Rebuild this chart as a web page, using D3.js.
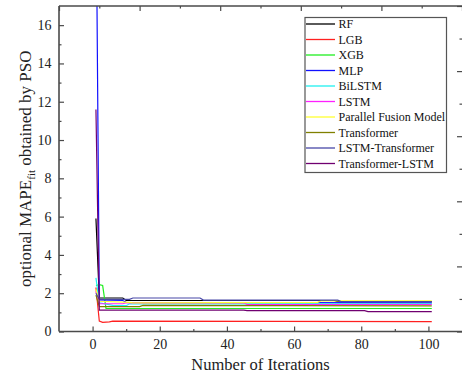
<!DOCTYPE html>
<html>
<head>
<meta charset="utf-8">
<script src="https://cdn.jsdelivr.net/npm/d3@7"></script>
<style>
  body { margin: 0; background: #fff; }
  svg { display: block; font-family: "Liberation Serif", "Times New Roman", serif; }
</style>
</head>
<body>
<div id="chart"></div>
<script>
// series names and colours (legend order)
const seriesNames = ['RF', 'LGB', 'XGB', 'MLP', 'BiLSTM', 'LSTM', 'Parallel Fusion Model',
  'Transformer', 'LSTM-Transformer', 'Transformer-LSTM'];
const seriesColors = ['#000000', '#ff2020', '#20ee20', '#1010ff', '#20f0f0', '#ff20ff',
  '#ffff30', '#808000', '#4848a8', '#700070'];

// best MAPE_fit per iteration, as [iteration, value] points
const rf = [[1, 5.9], [2, 1.75], [9, 1.75], [10, 1.62], [72, 1.62], [73, 1.56], [101, 1.56]];
const lgb = [[1, 2.3], [2, 0.55], [3, 0.48], [5, 0.5], [6, 0.54], [101, 0.52]];
const xgb = [[1, 2.4], [2, 2.45], [3, 2.4], [4, 1.2], [101, 1.2]];
const mlp = [[1, 24], [2, 1.65], [9, 1.62], [10, 1.52], [101, 1.5]];
const bilstm = [[1, 2.8], [2, 1.5], [6, 1.36], [10, 1.35], [11, 1.45], [101, 1.44]];
const lstm = [[1, 2.1], [2, 1.45], [9, 1.45], [10, 1.5], [45, 1.5], [46, 1.41], [101, 1.41]];
const pfm = [[1, 2.2], [2, 1.58], [11, 1.52], [12, 1.5], [67, 1.52], [68, 1.6], [101, 1.6]];
const transformer = [[1, 1.9], [2, 1.3], [14, 1.3], [15, 1.36], [101, 1.34]];
const lstmTransformer = [[1, 2.0], [2, 1.68], [11, 1.68], [12, 1.75], [32, 1.75], [33, 1.64], [73, 1.64], [74, 1.56], [101, 1.56]];
const transformerLstm = [[1, 11.6], [2, 1.12], [45, 1.12], [46, 1.09], [81, 1.09], [82, 1.04], [101, 1.04]];
const seriesData = [rf, lgb, xgb, mlp, bilstm, lstm, pfm, transformer, lstmTransformer, transformerLstm];

// axis ticks
const xMajorTicks = [0, 20, 40, 60, 80, 100];
const xMinorTicks = [10, 30, 50, 70, 90];
const yMajorTicks = [0, 2, 4, 6, 8, 10, 12, 14, 16];
const yMinorTicks = [1, 3, 5, 7, 9, 11, 13, 15];
const frameMajorTicks = [0, 2, 4, 6, 8, 10];
const frameMinorTicks = [1, 3, 5, 7, 9];

const W = 462, H = 378;
const margin = { left: 59, top: 6, right: 0, bottom: 46.5 };
const width = W - margin.left - margin.right;
const height = H - margin.top - margin.bottom;

const svg = d3.select('#chart').append('svg')
  .attr('width', W)
  .attr('height', H);

const x = d3.scaleLinear().domain([-10, 110]).range([0, width]);
const y = d3.scaleLinear().domain([0, 17]).range([height, 0]);
// top / right frame axes
const xTop = d3.scaleLinear().domain([0, 10]).range([0, width]);
const yRight = d3.scaleLinear().domain([0, 10]).range([height, 0]);

const g = svg.append('g').attr('transform', `translate(${margin.left},${margin.top})`);

svg.append('defs').append('clipPath').attr('id', 'plot-clip')
  .append('rect').attr('width', width).attr('height', height);

// lines
const line = d3.line().x(d => x(d[0])).y(d => y(d[1]));
const plot = g.append('g').attr('clip-path', 'url(#plot-clip)');
seriesData.forEach((s, i) => {
  plot.append('path')
    .datum(s)
    .attr('fill', 'none')
    .attr('stroke', seriesColors[i])
    .attr('stroke-width', 1.2)
    .attr('d', line);
});

// axes: ticks point inward
const axisColor = '#4a4a4a';
function styleAxis(sel) {
  sel.select('.domain').remove();
  sel.selectAll('line').attr('stroke', axisColor).attr('stroke-width', 1.2);
  sel.selectAll('text').attr('fill', '#222').style('font-size', '14px')
    .style('font-family', '"Liberation Serif", "Times New Roman", serif');
}

const bottomAxis = g.append('g').attr('transform', `translate(0,${height})`);
bottomAxis.append('g').call(d3.axisBottom(x).tickValues(xMajorTicks).tickSizeInner(-5).tickSizeOuter(0).tickPadding(8))
  .call(styleAxis);
bottomAxis.append('g').call(d3.axisBottom(x).tickValues(xMinorTicks).tickSizeInner(-2.5).tickSizeOuter(0).tickFormat(''))
  .call(styleAxis);

const leftAxis = g.append('g');
leftAxis.append('g').call(d3.axisLeft(y).tickValues(yMajorTicks).tickSizeInner(-5).tickSizeOuter(0).tickPadding(7.5))
  .call(styleAxis);
leftAxis.append('g').call(d3.axisLeft(y).tickValues(yMinorTicks).tickSizeInner(-2.5).tickSizeOuter(0).tickFormat(''))
  .call(styleAxis);

const topAxis = g.append('g');
topAxis.append('g').call(d3.axisTop(xTop).tickValues(frameMajorTicks).tickSizeInner(-5).tickSizeOuter(0).tickFormat(''))
  .call(styleAxis);
topAxis.append('g').call(d3.axisTop(xTop).tickValues(frameMinorTicks).tickSizeInner(-2.5).tickSizeOuter(0).tickFormat(''))
  .call(styleAxis);

const rightAxis = g.append('g').attr('transform', `translate(${width},0)`);
rightAxis.append('g').call(d3.axisRight(yRight).tickValues(frameMajorTicks).tickSizeInner(-5).tickSizeOuter(0).tickFormat(''))
  .call(styleAxis);
rightAxis.append('g').call(d3.axisRight(yRight).tickValues(frameMinorTicks).tickSizeInner(-2.5).tickSizeOuter(0).tickFormat(''))
  .call(styleAxis);

// frame lines
g.append('line').attr('x1', 0).attr('x2', width).attr('y1', height).attr('y2', height)
  .attr('stroke', axisColor).attr('stroke-width', 1.6);
g.append('line').attr('x1', 0).attr('x2', width).attr('y1', 0).attr('y2', 0)
  .attr('stroke', axisColor).attr('stroke-width', 1.6);
g.append('line').attr('x1', 0).attr('x2', 0).attr('y1', 0).attr('y2', height)
  .attr('stroke', axisColor).attr('stroke-width', 1.6);

// axis titles
svg.append('text')
  .attr('x', margin.left + width / 2)
  .attr('y', 370)
  .attr('text-anchor', 'middle')
  .attr('fill', '#222')
  .style('font-size', '16.5px')
  .text('Number of Iterations');

const yTitle = svg.append('text')
  .attr('transform', `translate(31,${margin.top + height / 2}) rotate(-90)`)
  .attr('text-anchor', 'middle')
  .attr('fill', '#222')
  .style('font-size', '17px');
yTitle.append('tspan').text('optional MAPE');
yTitle.append('tspan').attr('dy', 4).style('font-size', '11px').text('fit');
yTitle.append('tspan').attr('dy', -4).text(' obtained by PSO');

// legend
const legend = svg.append('g').attr('transform', 'translate(305,17.5)');
legend.append('rect')
  .attr('width', 141.5).attr('height', 155)
  .attr('fill', '#fff')
  .attr('stroke', '#555').attr('stroke-width', 1.2);
seriesNames.forEach((name, i) => {
  const row = legend.append('g').attr('transform', `translate(0,${6.5 + i * 15.5})`);
  row.append('line').attr('x1', 1).attr('x2', 30)
    .attr('stroke', seriesColors[i]).attr('stroke-width', 1.3);
  row.append('text').attr('x', 33.5).attr('dy', '0.35em')
    .attr('fill', '#111')
    .style('font-size', '12px')
    .text(name);
});
</script>
</body>
</html>
